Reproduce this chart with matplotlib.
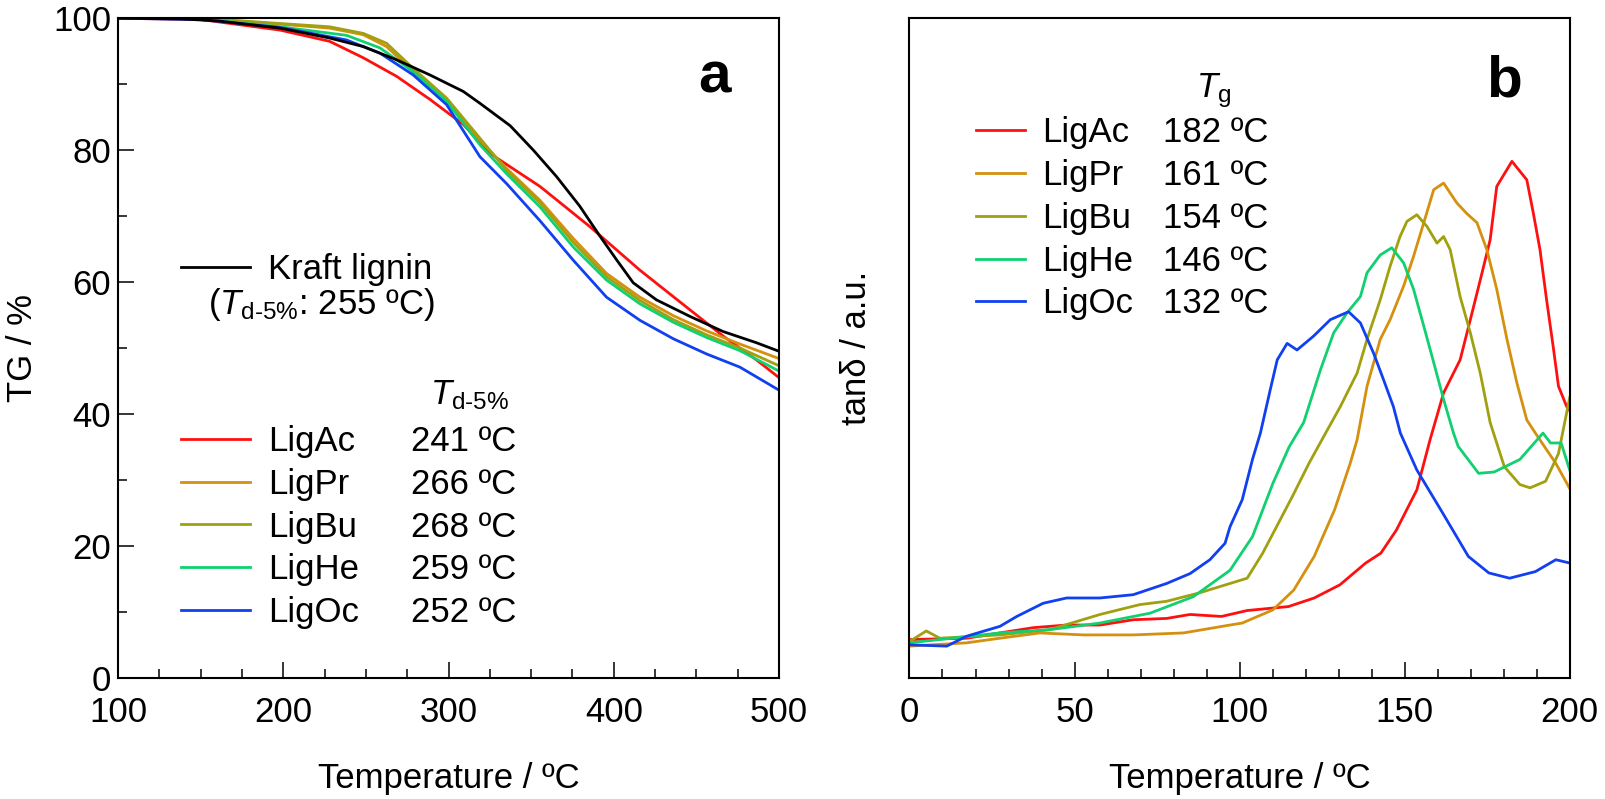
import matplotlib
matplotlib.use("Agg")
import matplotlib.pyplot as plt
from matplotlib.ticker import MultipleLocator, NullLocator
from matplotlib.lines import Line2D

plt.rcParams['font.family'] = ['Liberation Sans', 'DejaVu Sans']
plt.rcParams['mathtext.fontset'] = 'custom'
plt.rcParams['mathtext.rm'] = 'Liberation Sans'
plt.rcParams['mathtext.it'] = 'Liberation Sans:italic'
plt.rcParams['mathtext.bf'] = 'Liberation Sans:bold'

FS = 25
names = ["LigAc", "LigPr", "LigBu", "LigHe", "LigOc"]
colors = ["#ff1010", "#d4900e", "#a0a010", "#10d070", "#1040f0"]
td5 = ["241 ºC", "266 ºC", "268 ºC", "259 ºC", "252 ºC"]
tg = ["182 ºC", "161 ºC", "154 ºC", "146 ºC", "132 ºC"]

# ---- panel a: TG curves (temperature / ºC, mass / %) ----
kraft_t = [100, 137.5, 160, 198, 214, 228, 248.4, 268.5, 288.7, 308.9, 319, 337.3, 351.3, 365.3,
           379.4, 391.5, 401.6, 411.7, 425.8, 446, 466.1, 486.3, 500]
kraft_w = [100, 99.9, 99.6, 98.5, 97.7, 97.0, 95.7, 93.7, 91.4, 88.9, 87.1, 83.7, 80.0, 76.0,
           71.5, 67.0, 63.4, 59.9, 57.3, 54.8, 52.5, 50.8, 49.5]

tg_t = {
    "LigAc": [100, 150, 198, 228, 248.4, 268.5, 288.7, 308.9, 325, 355.3, 385.5, 415.8, 446, 466.2, 486.3, 500],
    "LigPr": [100, 150, 198, 228, 248.4, 262.5, 278.6, 298.8, 319, 335.2, 355.3, 375.5, 395.6, 415.8, 436,
              456.1, 476.3, 500],
    "LigBu": [100, 150, 198, 228, 248.4, 262.5, 278.6, 298.8, 319, 335.2, 355.3, 375.5, 395.6, 415.8, 436,
              456.1, 476.3, 500],
    "LigHe": [100, 150, 198, 238.3, 258.5, 278.6, 298.8, 319, 335.2, 355.3, 375.5, 395.6, 415.8, 436,
              456.1, 476.3, 500],
    "LigOc": [100, 150, 198, 238.3, 258.5, 278.6, 298.8, 319, 335.2, 355.3, 375.5, 395.6, 415.8, 436,
              456.1, 476.3, 500],
}
tg_w = {
    "LigAc": [100, 99.8, 98.2, 96.5, 94.0, 91.2, 87.7, 83.9, 79.5, 74.5, 68.4, 61.8, 55.8, 51.8, 48.2, 45.5],
    "LigPr": [100, 100, 99.1, 98.5, 97.5, 95.7, 91.9, 87.6, 81.5, 77.2, 72.4, 66.6, 61.3, 57.7, 54.9,
              52.6, 50.6, 48.4],
    "LigBu": [100, 100, 99.2, 98.7, 97.7, 96.2, 92.4, 87.9, 81.8, 76.9, 72.0, 66.0, 60.8, 57.2, 54.3,
              52.0, 50.0, 47.3],
    "LigHe": [100, 99.9, 98.7, 97.4, 95.5, 91.9, 87.4, 80.8, 76.4, 71.4, 65.3, 60.3, 56.7, 53.9,
              51.6, 49.6, 46.5],
    "LigOc": [100, 99.8, 98.6, 96.7, 94.7, 91.4, 86.9, 79.0, 74.9, 69.3, 63.3, 57.7, 54.2, 51.4,
              49.1, 47.1, 43.6],
}

# ---- panel b: tan delta (temperature / ºC, arbitrary units) ----
dma_t = {
    "LigAc": [0, 17.3, 27.4, 37.5, 47.6, 57.7, 67.8, 77.9, 85, 94.5, 102.3, 114.8, 122.6, 130.4, 138.2,
              142.8, 147.5, 153.7, 157.7, 161.8, 166.8, 169.9, 172.9, 175.9, 177.9, 182.5, 187, 189, 191,
              193, 195, 196.6, 199.1, 200],
    "LigPr": [0, 17.3, 27.4, 39.5, 52.7, 67.8, 83, 97.1, 100.8, 110.1, 116.4, 122.6, 128.8, 133.5, 135.6,
              138.6, 142.6, 145.6, 149.7, 152.7, 155.8, 158.8, 161.8, 165.8, 168.8, 171.9, 174.9, 177.9,
              181, 184, 187, 189.6, 195.8, 200],
    "LigBu": [0, 5.1, 9.2, 27.4, 42.5, 57.7, 69.8, 77.9, 88, 97.1, 102.3, 107, 116, 121, 125.5, 130.5,
              135.6, 138.6, 142.6, 145.6, 148.6, 150.7, 153.7, 156.8, 159.8, 161.8, 163.8, 166.8, 169.9,
              172.9, 175.9, 180.2, 184.9, 188, 192.7, 196.6, 200],
    "LigHe": [0, 27.4, 42.5, 57.7, 72.9, 86, 97.1, 103.9, 110.1, 115, 119.4, 124.5, 128.5, 132.5, 136.6,
              138.6, 142.6, 146.1, 149.7, 152.7, 155.8, 158.8, 161.8, 164.8, 166.2, 172.4, 177.1, 184.9,
              191.9, 194.2, 197.4, 200],
    "LigOc": [0, 11.3, 17.3, 27.4, 32.5, 40.5, 47.6, 57.7, 67.8, 77.9, 85, 91, 95.6, 97.1, 100.8, 103.9,
              106.3, 109.3, 111.4, 114.4, 117.4, 122.4, 127.5, 133, 136.6, 140.6, 143.6, 146.6, 148.7,
              153.7, 161.5, 169.3, 175.5, 181.8, 189.6, 195.8, 200],
}
dma_v = {
    "LigAc": [5.8, 6.0, 6.8, 7.6, 8.0, 8.0, 8.8, 9.0, 9.6, 9.3, 10.2, 10.8, 12.1, 14.1, 17.4,
              18.9, 22.4, 28.5, 36.1, 43.2, 48.2, 54.3, 60.3, 66.4, 74.5, 78.3, 75.5, 70.4, 64.9,
              57.3, 50.2, 44.2, 41.1, 40.5],
    "LigPr": [4.8, 5.3, 6.0, 6.8, 6.5, 6.5, 6.8, 8.0, 8.3, 10.3, 13.3, 18.4, 25.5, 32.5, 36.1,
              44.2, 51.3, 54.3, 59.4, 63.9, 69.0, 74.0, 75.0, 72.0, 70.4, 69.0, 64.9, 58.9,
              51.3, 44.7, 39.1, 37.1, 32.5, 28.7],
    "LigBu": [5.5, 7.1, 6.0, 6.5, 7.3, 9.6, 11.1, 11.6, 12.9, 14.3, 15.1, 18.9, 27.5, 32.5, 36.6, 41.1,
              46.2, 51.3, 57.3, 62.4, 66.9, 69.2, 70.2, 68.4, 65.9, 66.9, 64.9, 57.8, 52.3,
              46.2, 38.7, 32.0, 29.3, 28.8, 29.8, 34.0, 42.5],
    "LigHe": [5.3, 6.8, 7.3, 8.3, 9.8, 12.3, 16.3, 21.4, 29.5, 35.0, 38.7, 46.7, 52.3, 55.3, 57.8,
              61.4, 64.1, 65.2, 62.9, 58.9, 53.3, 47.8, 42.2, 37.1, 35.1, 31.0, 31.2, 33.1,
              37.1, 35.6, 35.6, 31.5],
    "LigOc": [5.0, 4.8, 6.3, 7.8, 9.3, 11.3, 12.1, 12.1, 12.6, 14.3, 15.8, 17.9, 20.4, 22.9, 27.0, 33.1,
              37.1, 43.7, 48.2, 50.7, 49.7, 51.8, 54.3, 55.5, 53.8, 49.2, 45.2, 41.1, 37.1,
              31.5, 25.0, 18.4, 15.9, 15.1, 16.1, 17.9, 17.4],
}


def style_axes(ax):
    for s in ax.spines.values():
        s.set_linewidth(1.5)
    ax.tick_params(which="both", direction="in", top=False, right=False, width=1.1,
                   labelsize=FS)
    ax.tick_params(which="major", length=11.5)
    ax.tick_params(which="minor", length=6.8)
    ax.tick_params(axis="x", pad=13)
    ax.tick_params(axis="y", pad=5)


def value_legend(ax, lines, labels, values, anchor, hlen, colspace):
    # two columns: coloured line + sample name, then the temperature value
    blank = Line2D([], [], linestyle="none")
    handles = list(lines) + [blank] * len(values)
    leg = ax.legend(handles, list(labels) + list(values), ncol=2, loc="upper left",
                    bbox_to_anchor=anchor, frameon=False, fontsize=FS, borderpad=0,
                    borderaxespad=0, handlelength=hlen, handletextpad=0.5,
                    labelspacing=0.28, columnspacing=colspace)
    return leg


fig = plt.figure(figsize=(16.06, 7.99), dpi=100)
ax1 = fig.add_axes([0.0735, 0.1517, 0.4116, 0.8255])
ax2 = fig.add_axes([0.5663, 0.1517, 0.4111, 0.8255])

# panel a
lw = 2.0
lines_a = []
for n, c in zip(names, colors):
    ln, = ax1.plot(tg_t[n], tg_w[n], color=c, lw=lw)
    lines_a.append(ln)
kraft_line, = ax1.plot(kraft_t, kraft_w, color="black", lw=lw)
ax1.set_xlim(100, 500)
ax1.set_ylim(0, 100)
ax1.xaxis.set_major_locator(MultipleLocator(100))
ax1.xaxis.set_minor_locator(MultipleLocator(25))
ax1.yaxis.set_major_locator(MultipleLocator(20))
ax1.yaxis.set_minor_locator(MultipleLocator(10))
style_axes(ax1)
ax1.set_xlabel("Temperature / ºC", fontsize=FS, labelpad=24)
ax1.set_ylabel("TG / %", fontsize=FS, labelpad=10)

leg_k = ax1.legend([kraft_line], ["Kraft lignin"], loc="upper left",
                   bbox_to_anchor=(0.0953, 0.644), frameon=False, fontsize=FS,
                   borderpad=0, borderaxespad=0, handlelength=2.0, handletextpad=0.5)
ax1.add_artist(leg_k)
ax1.text(0.1366, 0.566, r"($T_{\mathrm{d‐5\%}}$: 255 ºC)", transform=ax1.transAxes,
         fontsize=FS, ha="left", va="center")
value_legend(ax1, lines_a, names, td5, (0.0953, 0.383), 2.0, -1.0)
ax1.text(0.472, 0.429, r"$T_{\mathrm{d‐5\%}}$", transform=ax1.transAxes,
         fontsize=FS, ha="left", va="center")
ax1.text(0.902, 0.91, "a", transform=ax1.transAxes, fontsize=42,
         fontweight="bold", ha="center", va="center")

# panel b
lines_b = []
for n, c in zip(names, colors):
    ln, = ax2.plot(dma_t[n], dma_v[n], color=c, lw=lw)
    lines_b.append(ln)
ax2.set_xlim(0, 200)
ax2.set_ylim(0, 100)
ax2.xaxis.set_major_locator(MultipleLocator(50))
ax2.xaxis.set_minor_locator(MultipleLocator(10))
ax2.yaxis.set_major_locator(NullLocator())
ax2.yaxis.set_minor_locator(NullLocator())
style_axes(ax2)
ax2.set_xlabel("Temperature / ºC", fontsize=FS, labelpad=24)
ax2.set_ylabel("tanδ / a.u.", fontsize=FS, labelpad=26)

value_legend(ax2, lines_b, names, tg, (0.1004, 0.851), 1.41, -1.05)
ax2.text(0.4345, 0.89, r"$T_{\mathrm{g}}$", transform=ax2.transAxes,
         fontsize=FS, ha="left", va="center")
ax2.text(0.9005, 0.9036, "b", transform=ax2.transAxes, fontsize=42,
         fontweight="bold", ha="center", va="center")

fig.savefig("out.png", dpi=100)
